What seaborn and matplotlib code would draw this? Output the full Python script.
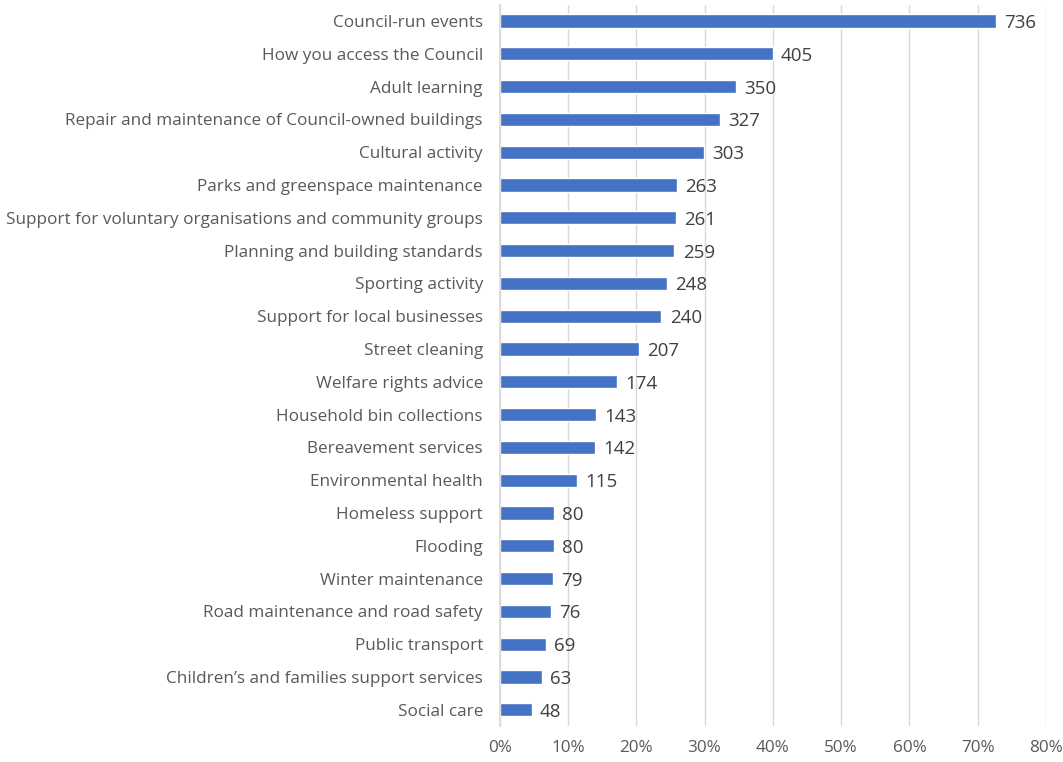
import matplotlib
matplotlib.use("Agg")
import matplotlib.pyplot as plt
import seaborn as sns
import pandas as pd
from matplotlib.ticker import PercentFormatter

# Services listed top to bottom
services = [
    "Council-run events",
    "How you access the Council",
    "Adult learning",
    "Repair and maintenance of Council-owned buildings",
    "Cultural activity",
    "Parks and greenspace maintenance",
    "Support for voluntary organisations and community groups",
    "Planning and building standards",
    "Sporting activity",
    "Support for local businesses",
    "Street cleaning",
    "Welfare rights advice",
    "Household bin collections",
    "Bereavement services",
    "Environmental health",
    "Homeless support",
    "Flooding",
    "Winter maintenance",
    "Road maintenance and road safety",
    "Public transport",
    "Children\u2019s and families support services",
    "Social care",
]

# Number of responses shown next to each bar
counts = [736, 405, 350, 327, 303, 263, 261, 259, 248, 240, 207,
          174, 143, 142, 115, 80, 80, 79, 76, 69, 63, 48]

# Bar length (share of respondents, %)
share_pct = [72.7, 40.0, 34.6, 32.3, 29.9, 26.0, 25.8, 25.6, 24.5, 23.7, 20.4,
             17.2, 14.1, 14.0, 11.4, 7.9, 7.9, 7.8, 7.5, 6.8, 6.2, 4.7]

df = pd.DataFrame({"service": services, "count": counts, "share": share_pct})

sns.set_theme(style="white")
plt.rcParams["font.family"] = ["Open Sans", "DejaVu Sans"]

fig, ax = plt.subplots(figsize=(10.63, 7.62), dpi=100)
fig.subplots_adjust(left=0.470, right=0.984, top=0.994, bottom=0.047)

sns.barplot(data=df, y="service", x="share", color="#4472C4",
            width=0.40, saturation=1, ax=ax)

for i, row in df.iterrows():
    ax.text(row["share"] + 1.2, i + 0.06, str(row["count"]), va="center",
            ha="left", fontsize=13.5, color="#404040")

ax.set_xlim(0, 80)
ax.set_xticks(range(0, 81, 10))
ax.xaxis.set_major_formatter(PercentFormatter(decimals=0))
ax.grid(axis="x", color="#D9D9D9", linewidth=1)
ax.set_axisbelow(True)
ax.set_xlabel("")
ax.set_ylabel("")
for side in ["top", "right", "bottom"]:
    ax.spines[side].set_visible(False)
ax.spines["left"].set_color("#D9D9D9")
ax.tick_params(axis="y", length=0, labelsize=12.3, colors="#595959", pad=12)
ax.tick_params(axis="x", length=0, labelsize=12.3, colors="#595959", pad=10)

fig.savefig("out.png", dpi=100)
